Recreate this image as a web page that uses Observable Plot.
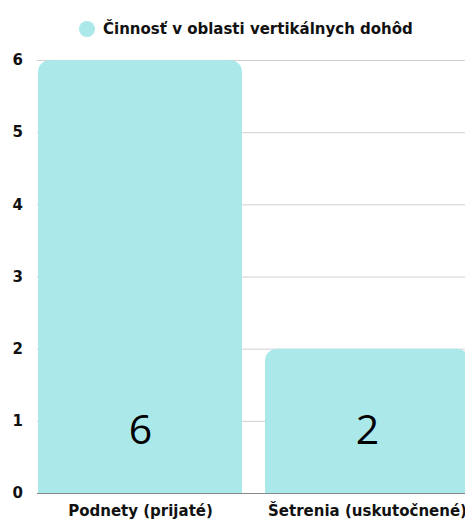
<!DOCTYPE html>
<html><head><meta charset="utf-8">
<script src="https://cdn.jsdelivr.net/npm/d3@7"></script>
<script src="https://cdn.jsdelivr.net/npm/@observablehq/plot@0.6"></script>
<style>
html,body{margin:0;padding:0;background:#fff;overflow:hidden;width:465px;height:519px}
#legend{height:45px;display:flex;align-items:center;font-family:"DejaVu Sans",sans-serif;font-weight:bold;font-size:15px;color:#111;padding-left:79px;box-sizing:border-box;padding-top:12px;white-space:nowrap}
#legend .dot{width:16px;height:16px;border-radius:50%;background:#aae8ea;margin-right:8px}
#chart svg{max-width:none !important}
</style></head>
<body>
<div id="legend"><span class="dot"></span><span>Činnosť v oblasti vertikálnych dohôd</span></div>
<div id="chart"></div>
<script>
const categories = ["Podnety (prijaté)", "Šetrenia (uskutočnené)"];
const values = [6, 2];
const yTicks = [0, 1, 2, 3, 4, 5, 6];

const data = categories.map((c, i) => ({category: c, value: values[i]}));
const color = "#aae8ea";

const chart = Plot.plot({
  width: 470,
  height: 474,
  marginLeft: 37,
  marginRight: 0,
  marginTop: 15,
  marginBottom: 26,
  style: {fontFamily: "'DejaVu Sans', sans-serif", fontSize: "15px", color: "#111", overflow: "visible", maxWidth: "none"},
  x: {domain: categories, paddingInner: 0.1, paddingOuter: 0, label: null, tickSize: 0, tickPadding: 12},
  y: {domain: [0, 6], ticks: yTicks, label: null, tickSize: 0},
  marks: [
    Plot.gridY(yTicks, {stroke: "#d0d0d0", strokeOpacity: 1}),
    Plot.ruleY([0], {stroke: "#888"}),
    Plot.barY(data, {x: "category", y: "value", fill: color, rx: 12}),
    Plot.barY(data, {x: "category", y: d => d.value / 2, fill: color}),
    Plot.axisY(yTicks, {tickSize: 0, tickPadding: 0, tickFormat: d3.format("d"), textAnchor: "start", dx: -37 + 12, fontWeight: "bold", fontSize: 15}),
    Plot.axisX({tickSize: 0, tickPadding: 12, fontWeight: "bold", fontSize: 15}),
    Plot.text(data, {x: "category", y: 0, text: d => String(d.value), dy: -63, fontSize: 41, fill: "#000", fontWeight: "normal", fontFamily: "'Open Sans', sans-serif"})
  ]
});
document.getElementById("chart").appendChild(chart);
</script>
</body></html>
